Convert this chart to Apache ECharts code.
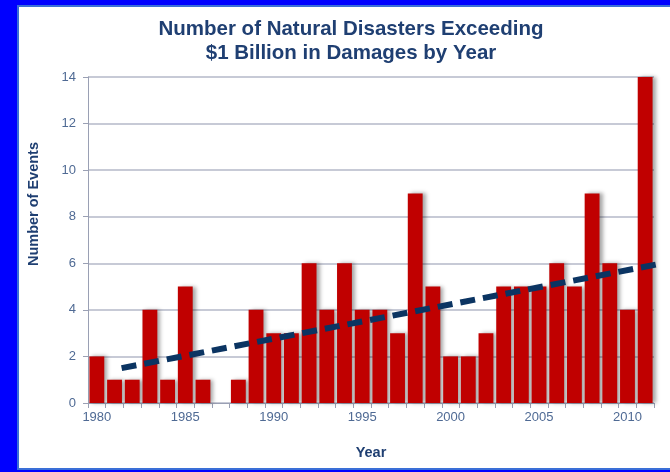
<!DOCTYPE html>
<html>
<head>
<meta charset="utf-8">
<script src="https://cdn.jsdelivr.net/npm/echarts@6/dist/echarts.min.js"></script>
<style>html,body{margin:0;padding:0;background:#0000ff;}#c{width:670px;height:472px;}</style>
</head>
<body>
<div id="c"></div>
<script>
var years = ['1980','1981','1982','1983','1984','1985','1986','1987','1988','1989','1990','1991','1992','1993','1994','1995','1996','1997','1998','1999','2000','2001','2002','2003','2004','2005','2006','2007','2008','2009','2010','2011'];
var events = [2,1,1,4,1,5,1,0,1,4,3,3,6,4,6,4,4,3,9,5,2,2,3,5,5,5,6,5,9,6,4,14];
var trendYears = [1981.4, 2012.0];
var trendValues = [1.5, 6.0];
var yTicks = [0,2,4,6,8,10,12,14];

var chart = echarts.init(document.getElementById('c'));
var labelColor = '#4f6a94';
var navy = '#1f3f72';
chart.setOption({
  backgroundColor: '#0000ff',
  animation: false,
  title: {
    text: 'Number of Natural Disasters Exceeding\n$1 Billion in Damages by Year',
    left: 346, top: 12, textAlign: 'center',
    textStyle: { fontFamily: 'Liberation Sans, Arial', fontSize: 20.5, fontWeight: 'bold', color: navy, lineHeight: 24 }
  },
  graphic: [
    { type: 'rect', z: -10, shape: { x: 18, y: 6, width: 660, height: 463 },
      style: { fill: '#ffffff', stroke: '#3a6fd8', lineWidth: 2 } },
    { type: 'text', left: 26, top: 142, rotation: Math.PI / 2, z: 10,
      style: { text: 'Number of Events', fontFamily: 'Liberation Sans, Arial', fontSize: 14.5, fontWeight: 'bold', fill: navy } }
  ],
  grid: { left: 88, right: 16, top: 77, bottom: 69 },
  xAxis: [{
    type: 'category', data: years, boundaryGap: true,
    name: 'Year', nameLocation: 'middle', nameGap: 42,
    nameTextStyle: { fontFamily: 'Liberation Sans, Arial', fontSize: 14.5, fontWeight: 'bold', color: navy },
    axisLine: { lineStyle: { color: '#9aa0b4', width: 1 } },
    axisTick: { show: true, interval: 0, length: 5, lineStyle: { color: '#9aa0b4' } },
    axisLabel: { interval: 4, color: labelColor, fontFamily: 'Liberation Sans, Arial', fontSize: 13, margin: 8 }
  }, {
    type: 'value', min: 1979.5, max: 2011.5, show: false
  }],
  yAxis: {
    type: 'value', min: 0, max: 14, interval: 2,
    axisLine: { show: true, lineStyle: { color: '#9aa0b4' } },
    axisTick: { show: true, length: 5, lineStyle: { color: '#9aa0b4' } },
    axisLabel: { color: labelColor, fontFamily: 'Liberation Sans, Arial', fontSize: 13, margin: 12,
      formatter: function (v) { return yTicks.indexOf(v) >= 0 ? String(v) : ''; } },
    splitLine: { lineStyle: { color: '#b4b8c8', width: 1.5 } }
  },
  series: [{
    type: 'bar', data: events, barCategoryGap: '16%', xAxisIndex: 0,
    itemStyle: { color: '#c00000', shadowColor: 'rgba(0,0,0,0.35)', shadowBlur: 4, shadowOffsetX: 3, shadowOffsetY: 0 }
  }, {
    type: 'line', xAxisIndex: 1, clip: false, symbol: 'none', z: 5,
    data: trendYears.map(function (y, i) { return [y, trendValues[i]]; }),
    lineStyle: { color: '#0b3462', width: 6, type: [15, 8] }
  }]
});
</script>
</body>
</html>
